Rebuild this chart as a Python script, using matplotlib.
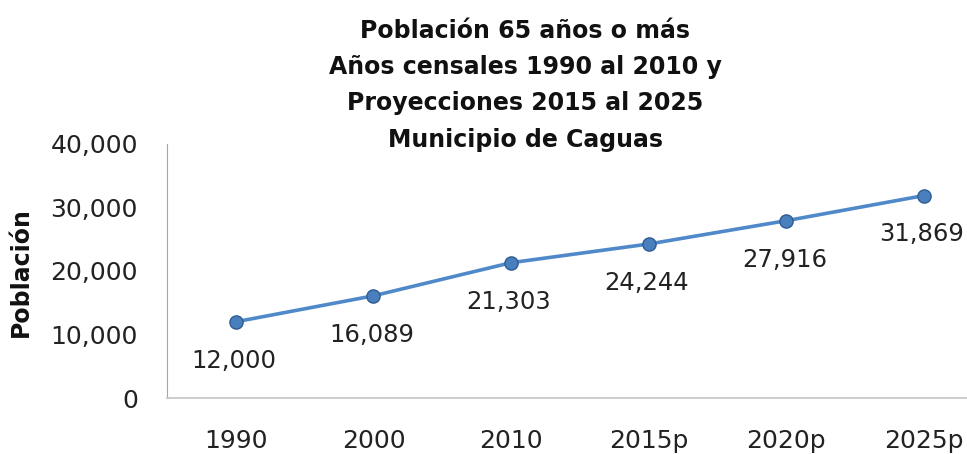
"""
Población 65 años o más - Municipio de Caguas, line chart.
"""

import matplotlib
matplotlib.use("Agg")
import matplotlib.pyplot as plt
from matplotlib.ticker import FuncFormatter

years = ["1990", "2000", "2010", "2015p", "2020p", "2025p"]
population = [12000, 16089, 21303, 24244, 27916, 31869]
y_ticks = [0, 10000, 20000, 30000, 40000]

title_lines = [
    "Población 65 años o más",
    "Años censales 1990 al 2010 y",
    "Proyecciones 2015 al 2025",
    "Municipio de Caguas",
]

plt.rcParams["font.family"] = ["DejaVu Sans"]

fig = plt.figure(figsize=(9.67, 4.54), dpi=100)
ax = fig.add_axes([0.1727, 0.1233, 0.854, 0.5597])

x = list(range(len(years)))
ax.plot(
    x,
    population,
    color="#5089c9",
    linewidth=2.6,
    marker="o",
    markersize=9.5,
    markerfacecolor="#4a7fbd",
    markeredgecolor="#2e5c92",
    markeredgewidth=1.0,
    zorder=3,
)

for xi, val in zip(x, population):
    ax.annotate(
        f"{val:,}",
        xy=(xi, val),
        xytext=(-1.5, -28),
        textcoords="offset points",
        ha="center",
        va="center",
        fontsize=17.5,
        color="#222222",
    )

ax.set_xlim(-0.5, len(years) - 0.5)
ax.set_ylim(0, 40000)
ax.set_xticks(x)
ax.set_xticklabels(years)
ax.set_yticks(y_ticks)
ax.yaxis.set_major_formatter(FuncFormatter(lambda v, _: f"{int(v):,}"))
ax.tick_params(axis="both", length=0, labelsize=18, labelcolor="#222222")
ax.tick_params(axis="x", pad=22)
ax.tick_params(axis="y", pad=21)

for side in ["top", "right"]:
    ax.spines[side].set_visible(False)
ax.spines["left"].set_color("#a6a6a6")
ax.spines["bottom"].set_color("#c8c8c8")
ax.spines["bottom"].set_linewidth(1.3)

fig.text(0.022, 1 - 272 / 454, "Población", rotation=90, ha="center", va="center",
         fontsize=17, fontweight="bold", color="#111111")

title_y = [31, 67, 103, 140]
for line, ty in zip(title_lines, title_y):
    fig.text(0.543, 1 - ty / 454, line, ha="center", va="center",
             fontsize=17, fontweight="bold", color="#111111")

fig.savefig("out.png", dpi=100)
